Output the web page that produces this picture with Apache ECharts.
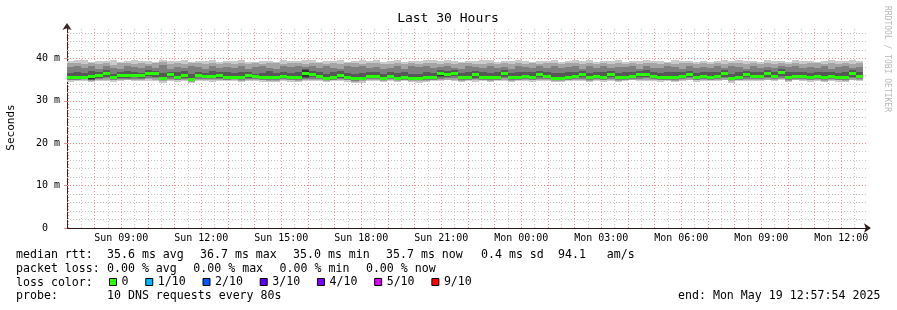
<!DOCTYPE html>
<html>
<head>
<meta charset="utf-8">
<script src="https://cdn.jsdelivr.net/npm/echarts@6/dist/echarts.min.js"></script>
<style>
html,body{margin:0;padding:0;background:#fff;}
#chart{width:897px;height:310px;}
</style>
</head>
<body>
<div id="chart"></div>
<script>
// ---- time axis (hours since Sun 00:00) ----
const startHour = 6.965;      // Sun 06:57:54
const endHour = 36.965;       // Mon 12:57:54
const stepHours = 960 / 3600; // rrd consolidation step
const xTickHours = [9, 12, 15, 18, 21, 24, 27, 30, 33, 36];
const xTickLabels = ['Sun 09:00','Sun 12:00','Sun 15:00','Sun 18:00','Sun 21:00','Mon 00:00','Mon 03:00','Mon 06:00','Mon 09:00','Mon 12:00'];
const yTickValues = [0, 10, 20, 30, 40];
const yTickLabels = ['0  ', '10 m', '20 m', '30 m', '40 m'];

// ---- median rtt per step (ms) ----
const median = [
35.6,35.6,35.6,35.65,35.85,36.45,35.55,35.85,35.85,36.05,35.85,36.45,36.35,35.3,36.1,35.6,35.9,35.0,36.05,35.75,35.75,36.05,
35.6,35.6,35.5,35.85,35.7,35.55,35.55,35.55,35.7,35.55,35.55,36.45,36.1,35.75,35.2,35.55,35.85,35.6,35.15,35.15,35.75,35.75,35.25,
35.75,35.25,35.55,35.2,35.2,35.55,35.45,36.35,36.1,36.45,35.55,35.55,36.1,35.55,35.55,35.55,36.35,35.55,35.55,35.75,35.55,36.1,35.7,
35.35,35.35,35.55,35.7,36.1,35.55,35.7,35.55,36.1,35.55,35.55,35.75,36.1,36.25,35.7,35.55,35.6,35.55,35.7,36.1,35.55,35.75,
35.55,35.75,36.35,35.15,35.55,36.1,35.7,35.7,36.35,35.75,36.7,35.55,35.75,35.75,35.55,35.75,35.55,35.7,35.55,35.55,36.35,35.75];

// ---- sorted ping rtts per step (ms), ping1 = fastest, ping10 = slowest ----
const ping1 = [
34.5,34.6,34.7,34.4,34.7,34.6,34.5,34.6,34.8,34.6,34.7,34.7,34.6,34.3,34.7,34.5,34.7,34.3,34.6,34.7,34.5,34.6,
34.6,34.7,34.4,34.7,34.6,34.5,34.4,34.5,34.7,34.5,34.4,34.6,34.6,34.7,34.4,34.6,34.7,34.5,34.3,34.2,34.7,34.6,34.4,
34.7,34.4,34.6,34.4,34.3,34.5,34.6,34.6,34.8,34.7,34.5,34.6,34.5,34.6,34.4,34.6,34.7,34.5,34.6,34.7,34.5,34.6,34.7,
34.5,34.4,34.6,34.7,34.6,34.4,34.7,34.5,34.6,34.4,34.6,34.8,34.6,34.7,34.7,34.5,34.6,34.4,34.7,34.8,34.5,34.7,
34.6,34.7,34.8,34.3,34.6,34.7,34.6,34.7,34.8,34.7,34.8,34.4,34.8,34.6,34.5,34.7,34.4,34.6,34.5,34.4,34.8,34.6];
const ping2 = [
34.8,34.9,34.9,34.7,35.0,35.0,34.8,34.9,35.0,34.9,34.9,35.1,35.0,34.6,35.0,34.8,35.0,34.5,34.9,34.9,34.8,34.9,
34.8,34.9,34.7,34.9,34.9,34.8,34.7,34.7,34.9,34.8,34.7,34.9,34.9,34.9,34.6,34.8,34.9,34.8,34.5,34.6,34.9,34.9,34.6,
35.0,34.6,34.8,34.6,34.6,34.7,34.8,34.9,35.0,35.0,34.7,34.8,34.8,34.8,34.7,34.8,35.0,34.7,34.8,34.9,34.8,34.9,34.9,
34.7,34.7,34.8,34.9,34.9,34.7,34.9,34.8,34.9,34.7,34.8,35.0,34.9,35.0,34.9,34.8,34.8,34.7,34.9,35.0,34.8,34.9,
34.8,34.9,35.0,34.6,34.8,34.9,34.9,34.9,35.0,35.0,35.1,34.7,35.0,34.9,34.8,35.0,34.7,34.9,34.8,34.7,35.0,34.9];
const ping3 = [
35.0,35.0,35.1,34.9,35.2,35.3,35.0,35.1,35.2,35.2,35.1,35.4,35.3,34.8,35.2,35.0,35.2,34.6,35.2,35.1,35.1,35.1,
35.0,35.1,34.9,35.1,35.1,35.0,35.0,34.9,35.1,35.0,34.9,35.1,35.2,35.1,34.8,35.0,35.1,35.0,34.7,34.8,35.1,35.1,34.8,
35.2,34.8,35.0,34.8,34.8,34.9,35.0,35.2,35.3,35.3,34.9,35.0,35.1,35.0,34.9,35.0,35.3,34.9,35.0,35.1,35.0,35.2,35.1,
34.9,34.9,35.0,35.1,35.2,34.9,35.1,35.0,35.2,34.9,35.0,35.2,35.2,35.3,35.1,35.0,35.0,34.9,35.1,35.3,35.0,35.1,
35.0,35.1,35.3,34.8,35.0,35.2,35.1,35.1,35.3,35.2,35.4,34.9,35.2,35.1,35.0,35.2,34.9,35.1,35.0,34.9,35.3,35.1];
const ping4 = [
35.2,35.1,35.3,35.0,35.4,35.6,35.2,35.3,35.4,35.5,35.3,35.8,35.7,34.9,35.5,35.2,35.4,34.7,35.5,35.3,35.3,35.4,
35.2,35.2,35.1,35.3,35.3,35.1,35.2,35.1,35.3,35.2,35.1,35.3,35.5,35.3,34.9,35.2,35.3,35.2,34.8,34.9,35.3,35.3,34.9,
35.4,34.9,35.2,34.9,34.9,35.1,35.1,35.5,35.6,35.8,35.1,35.2,35.4,35.2,35.1,35.2,35.7,35.1,35.2,35.3,35.2,35.5,35.3,
35.0,35.0,35.2,35.3,35.5,35.1,35.3,35.2,35.5,35.1,35.2,35.4,35.5,35.6,35.3,35.2,35.2,35.1,35.3,35.6,35.2,35.3,
35.2,35.3,35.7,34.9,35.2,35.5,35.3,35.3,35.7,35.4,35.9,35.1,35.4,35.3,35.2,35.4,35.1,35.3,35.2,35.1,35.7,35.3];
const ping5 = [
35.4,35.3,35.5,35.2,35.6,36.0,35.4,35.5,35.7,35.8,35.6,36.2,36.1,35.0,35.8,35.4,35.7,34.8,35.8,35.6,35.5,35.7,
35.4,35.4,35.3,35.6,35.5,35.3,35.4,35.3,35.5,35.4,35.3,35.6,35.8,35.5,35.0,35.4,35.6,35.4,34.9,35.0,35.5,35.6,35.0,
35.6,35.0,35.4,35.0,35.0,35.3,35.3,35.9,35.9,36.2,35.3,35.4,35.8,35.4,35.3,35.4,36.1,35.3,35.4,35.5,35.4,35.8,35.5,
35.2,35.1,35.4,35.5,35.8,35.3,35.5,35.4,35.9,35.3,35.4,35.6,35.8,36.0,35.5,35.4,35.4,35.3,35.5,35.9,35.4,35.5,
35.4,35.5,36.1,35.0,35.4,35.8,35.5,35.5,36.1,35.6,36.4,35.3,35.6,35.5,35.4,35.6,35.3,35.5,35.4,35.3,36.1,35.5];
const ping6 = [
35.8,35.9,35.7,36.1,36.1,36.9,35.7,36.2,36.0,36.3,36.1,36.7,36.6,35.6,36.4,35.8,36.1,35.2,36.3,35.9,36.0,36.4,
35.8,35.8,35.7,36.1,35.9,35.8,35.7,35.8,35.9,35.7,35.8,37.3,36.4,36.0,35.4,35.7,36.1,35.8,35.4,35.3,36.0,35.9,35.5,
35.9,35.5,35.7,35.4,35.4,35.8,35.6,36.8,36.3,36.7,35.8,35.7,36.4,35.7,35.8,35.7,36.6,35.8,35.7,36.0,35.7,36.4,35.9,
35.5,35.6,35.7,35.9,36.4,35.8,35.9,35.7,36.3,35.8,35.7,35.9,36.4,36.5,35.9,35.7,35.8,35.8,35.9,36.3,35.7,36.0,
35.7,36.0,36.6,35.3,35.7,36.4,35.9,35.9,36.6,35.9,37.0,35.8,35.9,36.0,35.7,35.9,35.8,35.9,35.7,35.8,36.6,36.0];
const ping7 = [
36.6,36.9,36.5,37.0,36.7,37.2,36.4,36.8,37.1,36.9,36.6,37.3,37.0,36.5,36.9,36.7,37.0,36.3,36.8,36.6,37.0,36.9,
36.7,36.5,36.9,36.8,36.4,36.6,37.0,36.5,36.8,36.6,36.7,37.4,37.0,36.8,36.3,36.7,37.0,36.6,36.4,36.5,36.9,36.7,36.4,
36.8,36.5,36.7,36.4,36.3,36.8,36.6,37.2,37.0,37.3,36.6,36.8,37.0,36.7,36.5,36.9,37.2,36.6,36.8,36.9,36.7,37.0,36.8,
36.5,36.6,36.8,36.7,37.1,36.6,36.9,36.7,37.0,36.6,36.8,36.9,37.1,37.2,36.8,36.6,36.9,36.7,36.8,37.1,36.6,36.9,
36.7,36.8,37.2,36.4,36.7,37.0,36.9,36.8,37.3,36.9,37.4,36.7,36.9,36.8,36.6,36.9,36.7,36.8,36.6,36.7,37.2,36.9];
const ping8 = [
37.9,38.3,37.7,38.1,37.6,38.2,37.8,37.5,38.3,37.9,37.7,38.1,37.8,38.4,37.6,38.0,37.7,38.2,37.9,37.6,38.1,37.8,
38.0,37.7,38.2,37.6,37.9,38.3,37.8,37.6,38.1,37.9,38.2,38.0,38.3,37.7,38.1,37.8,37.6,38.2,37.9,38.3,37.7,38.0,37.6,
37.8,38.1,37.6,38.3,37.9,38.2,37.7,38.0,38.3,37.8,37.6,38.1,37.9,37.7,38.2,37.8,38.0,37.6,38.2,37.9,37.7,38.1,37.8,
38.2,37.7,37.9,38.3,37.6,38.1,37.8,38.2,37.7,38.0,37.9,38.3,37.6,38.1,37.8,37.7,38.2,37.9,37.6,38.1,37.8,38.0,
37.8,38.1,37.7,38.3,37.9,37.6,38.2,37.8,38.0,37.7,38.1,37.9,38.3,37.7,38.0,37.8,38.2,37.6,37.9,38.1,37.8,38.0];
const ping9 = [
38.8,39.0,38.6,38.9,38.7,39.0,38.5,38.8,39.0,38.7,38.9,38.6,38.8,39.1,38.7,38.9,38.6,38.8,39.0,38.7,38.9,38.6,
38.9,38.7,38.8,38.6,38.9,38.7,38.8,39.0,38.6,38.8,38.9,38.7,39.0,38.8,38.6,38.9,38.7,38.8,39.0,38.6,38.8,38.9,38.7,
38.7,38.9,38.6,38.8,38.7,39.0,38.9,38.7,38.9,38.6,38.8,38.9,38.7,38.6,38.9,38.7,38.8,38.6,38.9,38.7,38.8,38.6,38.8,
38.9,38.6,38.8,38.9,38.7,39.0,38.6,38.8,38.7,38.9,38.6,38.8,38.7,39.0,38.8,38.6,38.9,38.7,38.8,38.9,38.6,38.8,
38.7,38.9,38.6,38.8,38.9,38.7,38.8,38.6,38.9,38.7,38.8,38.6,38.9,38.7,38.8,38.9,38.6,38.8,38.7,38.9,38.7,38.8];
const ping10 = [
39.3,39.5,39.6,39.2,39.4,39.3,39.5,39.1,39.4,39.6,39.3,39.4,39.2,39.5,39.3,39.4,39.7,39.2,39.4,39.3,39.5,39.2,
39.4,39.3,39.6,39.2,39.1,39.4,39.3,39.2,39.5,39.4,39.3,39.6,39.5,39.2,39.4,39.3,39.5,39.2,39.4,39.6,39.3,39.5,39.2,
39.3,39.5,39.2,39.4,39.3,39.6,39.7,39.4,39.5,39.3,39.2,39.4,39.3,39.5,39.6,39.2,39.4,39.3,39.5,39.4,39.2,39.4,39.3,
39.5,39.2,39.4,39.6,39.3,39.7,39.2,39.3,39.4,39.5,39.2,39.3,39.4,39.6,39.3,39.4,39.2,39.5,39.3,39.4,39.2,39.4,
39.2,39.4,39.5,39.3,39.6,39.3,39.4,39.2,39.5,39.3,39.4,39.2,39.5,39.3,39.4,39.2,39.3,39.5,39.4,39.3,39.5,39.4];

// ---- legend ----
const lossLabels = ['0', '1/10', '2/10', '3/10', '4/10', '5/10', '9/10'];
const lossColors = ['#26ff00', '#00b8ff', '#0059ff', '#5e00ff', '#7e00ff', '#dd00ff', '#ff0000'];
// each legend line is a list of [text, left x] pieces
const statLine1 = [['median rtt:', 16], ['35.6 ms avg', 107], ['36.7 ms max', 200], ['35.0 ms min', 293], ['35.7 ms now', 386], ['0.4 ms sd', 481], ['94.1   am/s', 558]];
const statLine2 = [['packet loss:', 16], ['0.00 % avg', 107], ['0.00 % max', 193.3], ['0.00 % min', 279.6], ['0.00 % now', 365.9]];
const statLine3 = [['loss color:', 16]];
const statLine4 = [['probe:', 16], ['10 DNS requests every 80s', 107], ['end: Mon May 19 12:57:54 2025', 678]];
const titleText = 'Last 30 Hours';
const yName = 'Seconds';
const watermark = 'RRDTOOL / TOBI OETIKER';

const MONO = 'DejaVu Sans Mono';
const SMOKE = ['#cacaca', '#a4a4a4', '#7e7e7e', '#585858', '#323232'];
const pings = [ping1, ping2, ping3, ping4, ping5, ping6, ping7, ping8, ping9, ping10];

const smokeData = median.map((m, i) => {
  const t = startHour + i * stepHours;
  return [t, t + stepHours].concat(pings.map(p => p[i])).concat([m]);
});

function renderSmoke(params, api) {
  const xa = Math.round(api.coord([api.value(0), 0])[0]);
  const xb = Math.round(api.coord([api.value(1), 0])[0]);
  const children = [];
  for (let k = 0; k < 5; k++) {
    const lo = Math.round(api.coord([0, api.value(2 + k)])[1]);
    const hi = Math.round(api.coord([0, api.value(11 - k)])[1]);
    children.push({ type: 'rect', shape: { x: xa, y: hi, width: xb - xa, height: lo - hi }, style: { fill: SMOKE[k] } });
  }
  const ym = api.coord([0, api.value(12)])[1];
  children.push({ type: 'rect', shape: { x: xa, y: Math.round(ym - 1.5), width: xb - xa, height: 3 }, style: { fill: lossColors[0] } });
  return { type: 'group', children };
}

// grid line positions
const xMinor = [], xMajor = [], yMinor = [], yMajor = [];
for (let h = 7; h <= 36.5; h += 0.5) { (h % 1 === 0 ? xMajor : xMinor).push(h); }
for (let v = 2; v <= 46; v += 2) { (v % 10 === 0 ? yMajor : yMinor).push(v); }

function gridSeries(xs, ys, color, z) {
  return {
    type: 'line', data: [], silent: true, z: z, symbol: 'none',
    markLine: {
      silent: true, symbol: ['none', 'none'], label: { show: false },
      lineStyle: { color: color, width: 1, type: [1, 2] },
      emphasis: { disabled: true },
      animation: false,
      data: xs.map(v => ({ xAxis: v })).concat(ys.map(v => ({ yAxis: v })))
    }
  };
}

const textPieces = [];
[[statLine1, 255], [statLine2, 268.5], [statLine3, 282.5], [statLine4, 296]].forEach(([line, y]) => {
  line.forEach(([t, x]) => textPieces.push({
    type: 'text', x: x, y: y,
    style: { text: t, font: '11.6px "DejaVu Sans Mono"', fill: '#000', textVerticalAlign: 'middle' }
  }));
});

const chart = echarts.init(document.getElementById('chart'), null, { renderer: 'canvas' });
const series = [
  gridSeries(xMinor, yMinor, '#c4c4c4', 1),
  gridSeries(xMajor, yMajor, '#f08c8c', 2),
  {
    type: 'custom', name: 'smoke', renderItem: renderSmoke, data: smokeData, z: 5,
    encode: { x: [0, 1], y: [2, 11] }, silent: true
  }
].concat(lossLabels.map((l, i) => ({
  type: 'line', name: l, data: [], itemStyle: { color: lossColors[i] }, lineStyle: { color: lossColors[i] }
})));

chart.setOption({
  animation: false,
  backgroundColor: '#ffffff',
  grid: { left: 67, right: 30, top: 27, bottom: 82, containLabel: false, outerBoundsMode: 'none' },
  xAxis: {
    type: 'value', min: startHour, max: endHour,
    splitLine: { show: false },
    axisLine: { show: true, lineStyle: { color: '#2a1a1a', width: 1 }, symbol: ['none', 'arrow'], symbolSize: [7, 7], symbolOffset: [0, 4] },
    axisTick: { show: false },
    axisLabel: {
      customValues: xTickHours, margin: 5,
      fontFamily: MONO, fontSize: 10, color: '#000',
      formatter: v => { const i = xTickHours.indexOf(Math.round(v)); return i >= 0 ? xTickLabels[i] : ''; }
    }
  },
  yAxis: {
    type: 'value', min: 0, max: 47.4,
    name: yName, nameLocation: 'middle', nameRotate: 90, nameGap: 50,
    nameTextStyle: { fontFamily: MONO, fontSize: 11, color: '#000' },
    splitLine: { show: false },
    axisLine: { show: true, lineStyle: { color: '#3a2222', width: 1 }, symbol: ['none', 'arrow'], symbolSize: [7, 7], symbolOffset: [0, 4] },
    axisTick: { show: true, customValues: yTickValues, length: 3, lineStyle: { color: '#f08c8c' } },
    axisLabel: {
      customValues: yTickValues, margin: 7,
      fontFamily: MONO, fontSize: 10, color: '#000',
      formatter: v => { const i = yTickValues.indexOf(Math.round(v)); return i >= 0 ? yTickLabels[i] : ''; }
    }
  },
  legend: {
    data: lossLabels, left: 109, top: 276, padding: 0,
    icon: 'rect', itemWidth: 7, itemHeight: 7, itemGap: 16.8,
    selectedMode: false,
    itemStyle: { borderColor: '#000', borderWidth: 1 },
    textStyle: { fontFamily: MONO, fontSize: 11.6, color: '#000' }
  },
  graphic: [
    { type: 'text', x: 448, y: 19, style: { text: titleText, font: '13px "DejaVu Sans Mono"', fill: '#000', textAlign: 'center', textVerticalAlign: 'middle' } },
    { type: 'text', x: 887, y: 59, rotation: -Math.PI / 2, style: { text: watermark, font: '8px "DejaVu Sans Mono"', fill: '#b8b8b8', textAlign: 'center', textVerticalAlign: 'middle' } }
  ].concat(textPieces),
  series: series
});
</script>
</body>
</html>
